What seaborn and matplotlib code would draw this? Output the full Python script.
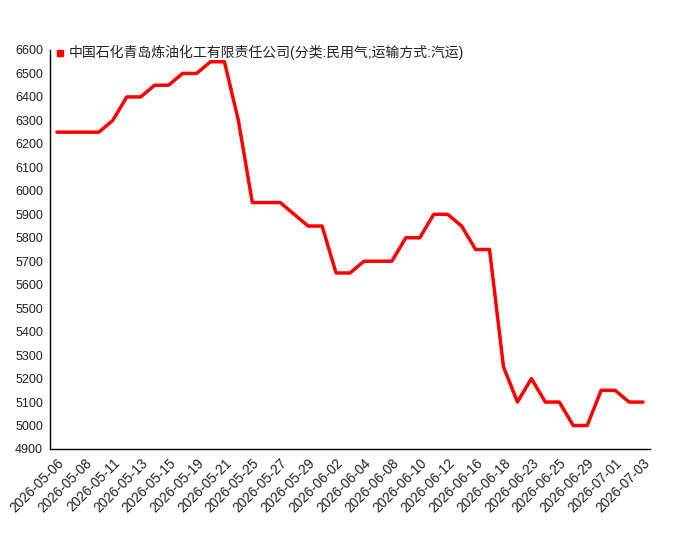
import matplotlib
matplotlib.use("Agg")
import matplotlib.pyplot as plt
from matplotlib.lines import Line2D
import seaborn as sns
import pandas as pd

dates = [
    "2026-05-06", "2026-05-07", "2026-05-08", "2026-05-09", "2026-05-11", "2026-05-12",
    "2026-05-13", "2026-05-14", "2026-05-15", "2026-05-18", "2026-05-19", "2026-05-20",
    "2026-05-21", "2026-05-22", "2026-05-25", "2026-05-26", "2026-05-27", "2026-05-28",
    "2026-05-29", "2026-06-01", "2026-06-02", "2026-06-03", "2026-06-04", "2026-06-05",
    "2026-06-08", "2026-06-09", "2026-06-10", "2026-06-11", "2026-06-12", "2026-06-15",
    "2026-06-16", "2026-06-17", "2026-06-18", "2026-06-22", "2026-06-23", "2026-06-24",
    "2026-06-25", "2026-06-26", "2026-06-29", "2026-06-30", "2026-07-01", "2026-07-02",
    "2026-07-03",
]
prices = [
    6250, 6250, 6250, 6250, 6300, 6400, 6400, 6450, 6450, 6500, 6500, 6550,
    6550, 6300, 5950, 5950, 5950, 5900, 5850, 5850, 5650, 5650, 5700, 5700,
    5700, 5800, 5800, 5900, 5900, 5850, 5750, 5750, 5250, 5100, 5200, 5100,
    5100, 5000, 5000, 5150, 5150, 5100, 5100,
]
series_name = "中国石化青岛炼油化工有限责任公司(分类:民用气;运输方式:汽运)"
y_ticks = list(range(4900, 6601, 100))

sns.set_style("white")
plt.rcParams["font.family"] = ["Liberation Sans", "Noto Sans CJK SC", "DejaVu Sans"]

df = pd.DataFrame({"date": dates, "price": prices})
df["pos"] = range(len(df))

fig = plt.figure(figsize=(7, 5.5), dpi=100)
ax = fig.add_axes([50 / 700, 1 - 449 / 550, 600 / 700, 399 / 550])

sns.lineplot(data=df, x="pos", y="price", ax=ax, color="#ff0000", linewidth=2.5)

ax.set_xlim(-0.5, len(dates) - 0.5)
ax.set_ylim(4900, 6600)
ax.set_yticks(y_ticks)
ax.set_yticklabels([str(v) for v in y_ticks], fontsize=9, color="#222222")
ax.set_xticks(range(len(dates)))
ax.set_xticklabels([d if i % 2 == 0 else "" for i, d in enumerate(dates)],
                   rotation=45, ha="right", rotation_mode="anchor",
                   fontsize=9.8, color="#222222")
ax.tick_params(axis="both", direction="inout", length=6, width=1, color="black", pad=2)
ax.set_xlabel("")
ax.set_ylabel("")

for s in ["top", "right"]:
    ax.spines[s].set_visible(False)
for s in ["left", "bottom"]:
    ax.spines[s].set_color("black")
    ax.spines[s].set_linewidth(1)

handle = Line2D([], [], marker="s", color="#ff0000", linestyle="none", markersize=5)
leg = ax.legend([handle], [series_name], loc="upper left", bbox_to_anchor=(-0.006, 1.033),
                frameon=False, fontsize=10, handletextpad=0.2, handlelength=0.8,
                borderaxespad=0.2)
for t in leg.get_texts():
    t.set_color("#222222")

fig.savefig("out.png", dpi=100)
